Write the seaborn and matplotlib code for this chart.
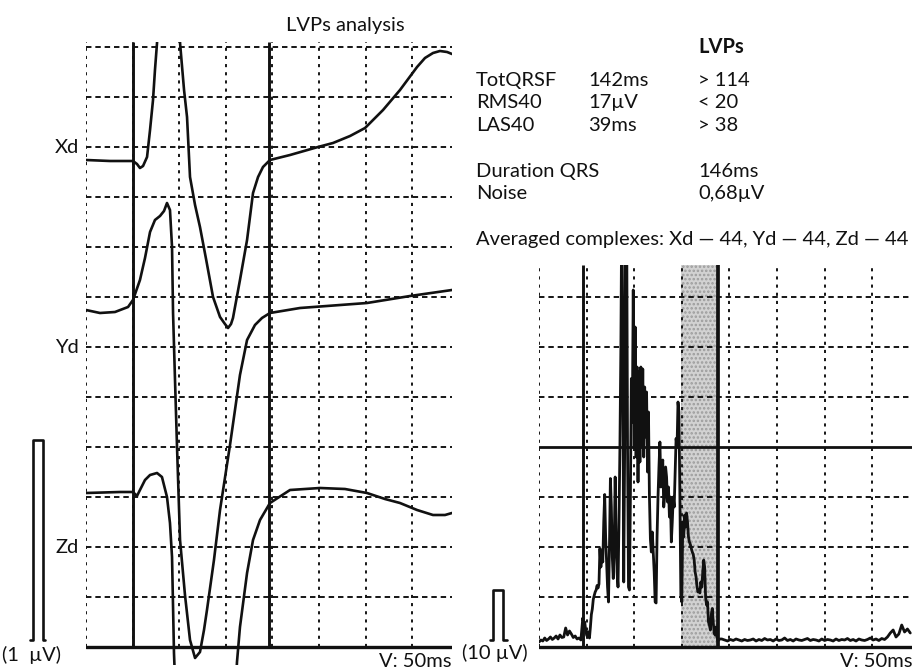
import numpy as np
import pandas as pd
import matplotlib
matplotlib.use("Agg")
import matplotlib.pyplot as plt
import seaborn as sns


# ============================================================
# DATA
# ============================================================
# left panel: averaged leads, time in ms, amplitude in uV
xd_t = [0, 25.8, 50.4, 54.7, 57.9, 61.2, 65.5, 68.7, 71.9, 74.0,
        76.2, 78.3, 79.4, 89.1, 99.8, 100.9, 105.2, 108.4, 111.6, 117.0,
        122.3, 128.8, 136.3, 143.8, 149.1, 152.4, 155.6, 157.7, 165.2, 172.8,
        179.2, 184.6, 189.9, 197.4, 218.9, 248.9, 265.0, 283.3, 299.4, 318.7,
        336.9, 355.2, 363.7, 372.3, 379.8, 387.4, 392.7]
xd_v = [2.435, 2.43, 2.43, 2.415, 2.395, 2.405, 2.45, 2.585, 2.735, 2.885,
        3.02, 3.235, 3.7, 4.2, 3.7, 3.02, 2.785, 2.65, 2.35, 2.21,
        2.1, 1.94, 1.75, 1.65, 1.615, 1.595, 1.615, 1.645, 1.835, 2.035,
        2.27, 2.35, 2.4, 2.435, 2.46, 2.5, 2.52, 2.555, 2.595, 2.685,
        2.785, 2.9, 2.945, 2.97, 2.98, 2.975, 2.965]

yd_t = [0, 15.0, 31.1, 45.1, 50.4, 57.9, 63.3, 68.7, 74.0, 79.4,
        83.7, 86.9, 90.1, 92.3, 93.4, 95.5, 97.6, 100.9, 106.2, 111.6,
        117.0, 122.3, 126.6, 129.8, 137.3, 143.8, 154.5, 165.2, 172.8, 181.3,
        188.8, 197.4, 229.6, 301.5, 347.7, 392.7]
yd_v = [1.685, 1.67, 1.675, 1.70, 1.735, 1.835, 1.945, 2.075, 2.135, 2.155,
        2.18, 2.22, 2.185, 2.0, 1.67, 1.335, 1.01, 0.535, 0.26, 0.035,
        -0.055, -0.025, 0.085, 0.185, 0.435, 0.685, 1.01, 1.36, 1.535, 1.61,
        1.645, 1.67, 1.695, 1.72, 1.755, 1.785]

zd_t = [0, 36.5, 50.4, 54.7, 57.9, 63.3, 68.7, 76.2, 81.5, 86.9,
        90.1, 92.3, 93.4, 94.4, 95.5, 96.6, 127.7, 159.9, 161.0, 162.0,
        165.2, 172.8, 179.2, 186.7, 197.4, 218.9, 251.1, 277.9, 301.5, 320.8,
        336.9, 355.2, 372.3, 385.2, 392.7]
zd_v = [0.77, 0.775, 0.775, 0.755, 0.785, 0.835, 0.86, 0.87, 0.85, 0.75,
        0.62, 0.45, 0.2, -0.03, -0.165, -0.365, -1.265, -0.365, -0.165, -0.075,
        0.1, 0.37, 0.535, 0.635, 0.72, 0.785, 0.795, 0.79, 0.77, 0.74,
        0.72, 0.685, 0.66, 0.66, 0.67]

lead_names = ['Xd', 'Yd', 'Zd']
lead_label_level = [2.5, 1.5, 0.5]

# right panel: filtered vector magnitude (uV)
rms_pre = [1.0, 1.4, 1.2, 1.8, 1.3, 1.6, 2.0, 1.5, 1.8, 2.2,
           1.6, 2.4, 1.9, 2.0, 3.8, 2.4, 3.2, 2.6, 1.9, 2.2,
           1.6, 1.8, 1.4]                      # 0..44 ms, every 2 ms
rms_qrs = [5.8, 4.8, 5.0, 3.5, 2.4, 2.0, 3.0, 1.8, 4.0, 6.5,
           7.6, 9.5, 10.3, 11.0, 11.4, 12.3, 11.8, 12.6, 19.7, 16.0,
           18.5, 17.0, 25.0, 30.5, 22.0, 17.0, 12.0, 9.0, 20.0, 33.7,
           28.0, 18.0, 13.7, 20.0, 34.0, 22.0, 15.0, 12.0, 25.0, 40.0,
           60.0, 90.0, 60.0, 13.0, 40.0, 90.0, 90.0, 40.0, 12.0, 11.4,
           30.0, 53.7, 45.0, 71.4, 40.0, 64.0, 38.0, 56.0, 33.0, 55.0,
           37.0, 56.0, 40.0, 55.6, 38.0, 52.0, 42.0, 51.0, 35.0, 47.0,
           30.0, 21.6, 19.0, 23.0, 18.8, 15.0, 9.0, 8.8, 22.0, 30.0,
           36.0, 41.0, 32.0, 35.0, 37.4, 28.0, 30.0, 36.0, 34.0, 29.0,
           32.0, 26.0, 30.0, 21.0, 25.0, 30.0, 28.0, 35.0, 41.7, 40.0,
           49.0, 47.0, 30.0, 10.3, 9.0, 25.0, 22.0, 26.4, 24.0, 26.8,
           25.0, 22.0, 21.0, 20.5, 19.7, 19.0, 18.5, 17.4, 15.0, 14.0,
           12.0, 11.0, 11.5, 10.8, 13.0, 12.0, 15.0, 17.4, 16.0, 10.0,
           8.4, 9.0, 5.0, 4.4, 3.4, 6.5, 7.7, 5.0, 2.8, 2.4,
           4.0, 2.0, 1.2, 1.5, 1.6]            # 46..190 ms, every 1 ms
rms_post = [1.6, 1.4, 1.2, 1.5, 1.3, 1.6, 1.4, 1.2, 1.5, 1.3,
            1.4, 1.6, 1.2, 1.5, 1.3, 1.7, 1.4, 1.5, 1.2, 1.6,
            1.3, 1.4, 1.8, 1.3, 1.5, 1.2, 1.6, 1.4, 1.3, 1.5,
            1.7, 1.3, 1.5, 1.4, 1.2, 1.6, 1.3, 1.5, 1.4, 1.2,
            1.6, 1.3, 1.5, 1.4, 1.7, 1.3, 1.5, 1.2, 1.6, 1.4,
            1.3, 1.5, 1.8, 1.4, 1.6, 1.3, 1.7, 1.5, 2.0, 2.8,
            3.4, 2.0, 2.6, 4.4, 3.0, 3.6, 2.8]  # 192..390 ms, every 3 ms

qrs_left = [50, 196.5]      # QRS onset / offset on the averaged leads
qrs_right = [46, 188]       # TotQRSF onset / offset
las_start = 149             # start of low amplitude signal (LAS40)
las_level = 40              # uV
cal_left = 1.0              # calibration pulse, uV
cal_right = 10.0

table_rows = [('TotQRSF', '142ms', '> 114'),
              ('RMS40', '17\u00b5V', '< 20'),
              ('LAS40', '39ms', '> 38')]
extra_rows = [('Duration QRS', '146ms'),
              ('Noise', '0,68\u00b5V')]
averaged_text = 'Averaged complexes: Xd \u2014 44, Yd \u2014 44, Zd \u2014 44'


# ============================================================
# FIGURE
# ============================================================
sns.set_style('white')
plt.rcParams['font.family'] = ['Lato', 'DejaVu Sans']
plt.rcParams['hatch.linewidth'] = 1.2
FS = 14.5
INK = '#111111'
GRID = '#151515'

W, H = 921, 672
fig = plt.figure(figsize=(W / 100, H / 100), dpi=100)


def box(l, t, r, b):
    return [l / W, 1 - b / H, (r - l) / W, (b - t) / H]


def ftext(x, y, s, **kw):
    fig.text(x / W, 1 - y / H, s, fontsize=FS, color=INK, va='baseline', **kw)


ax_l = fig.add_axes(box(86, 42, 452, 665))
ax_r = fig.add_axes(box(539, 265, 912, 665))

L_TOP, R_TOP = 3.025, 76.4
ax_l.set_xlim(0, 392.7)
ax_l.set_ylim(-0.09, L_TOP)
ax_r.set_xlim(0, 391.8)
ax_r.set_ylim(-3.6, R_TOP)


def draw_grid(ax, xmax, ys, ytop):
    for x in np.arange(0, xmax, 50):
        ax.vlines(x, 0, ytop, color=GRID, lw=1.4, linestyles=[(0, (1.6, 2.6))])
    for y in ys:
        ax.axhline(y, color=GRID, lw=1.4, linestyle=(0, (2.8, 2.0)))


draw_grid(ax_l, 392.7, np.arange(0.25, 3.01, 0.25), L_TOP)

# ---- left panel ----
leads = pd.concat([
    pd.DataFrame({'t': xd_t, 'v': xd_v, 'lead': 'Xd'}),
    pd.DataFrame({'t': yd_t, 'v': yd_v, 'lead': 'Yd'}),
    pd.DataFrame({'t': zd_t, 'v': zd_v, 'lead': 'Zd'}),
])
sns.lineplot(data=leads, x='t', y='v', units='lead', estimator=None, sort=False,
             color=INK, lw=1.9, ax=ax_l)
ax_l.vlines(qrs_left, 0, L_TOP, color=INK, lw=2.1)
ax_l.axhline(0, color=INK, lw=2.4)

# ---- right panel ----
t_rms = np.concatenate([np.arange(0, 46, 2), np.arange(46, 191), np.arange(192, 391, 3)])
v_rms = np.array(rms_pre + rms_qrs + rms_post)
ax_r.fill_between([las_start, qrs_right[1]], 0, R_TOP, facecolor='#d2d2d2',
                  edgecolor='#9c9c9c', hatch='....', lw=0, zorder=1)
draw_grid(ax_r, 391.8, [10, 20, 30, 50, 60, 70], R_TOP)
sns.lineplot(x=t_rms, y=v_rms, estimator=None, sort=False, color=INK, lw=2.0, ax=ax_r)
ax_r.vlines(qrs_right[0], 0, R_TOP, color=INK, lw=2.1)
ax_r.vlines(qrs_right[1], 0, R_TOP, color=INK, lw=2.7)
ax_r.axhline(las_level, color=INK, lw=2.0)
ax_r.axhline(0, color=INK, lw=2.4)

for ax in (ax_l, ax_r):
    ax.set_axis_off()

# calibration pulses
xl0, xl1 = -57, -46
ax_l.plot([xl0 - 3, xl0, xl0, xl1, xl1, xl1 + 2],
          [0.035, 0.035, 0.035 + cal_left, 0.035 + cal_left, 0.035, 0.035],
          color=INK, lw=1.9, clip_on=False)
xr0, xr1 = -48, -38
ax_r.plot([xr0 - 3, xr0, xr0, xr1, xr1, xr1 + 4],
          [1.4, 1.4, 1.4 + cal_right, 1.4 + cal_right, 1.4, 1.4],
          color=INK, lw=1.9, clip_on=False)

# ---- texts ----
ftext(345, 31, 'LVPs analysis', ha='center')
for name, lvl in zip(lead_names, lead_label_level):
    ftext(79, 647 - lvl * 200 + 6, name, ha='right')
ftext(2, 661, '(1  \u00b5V)')
ftext(451, 667, 'V: 50ms', ha='right')
ftext(462, 659, '(10 \u00b5V)')
ftext(912, 667, 'V: 50ms', ha='right')

ftext(698, 53, 'LVPs', fontweight='bold')
for i, (a, b, c) in enumerate(table_rows):
    y = 86 + 22.4 * i
    ftext(476, y, a)
    ftext(588, y, b)
    ftext(698, y, c)
for i, (a, b) in enumerate(extra_rows):
    y = 177 + 22.4 * i
    ftext(476, y, a)
    ftext(698, y, b)
ftext(476, 245, averaged_text)

fig.savefig('out.png', dpi=100)
plt.close(fig)
